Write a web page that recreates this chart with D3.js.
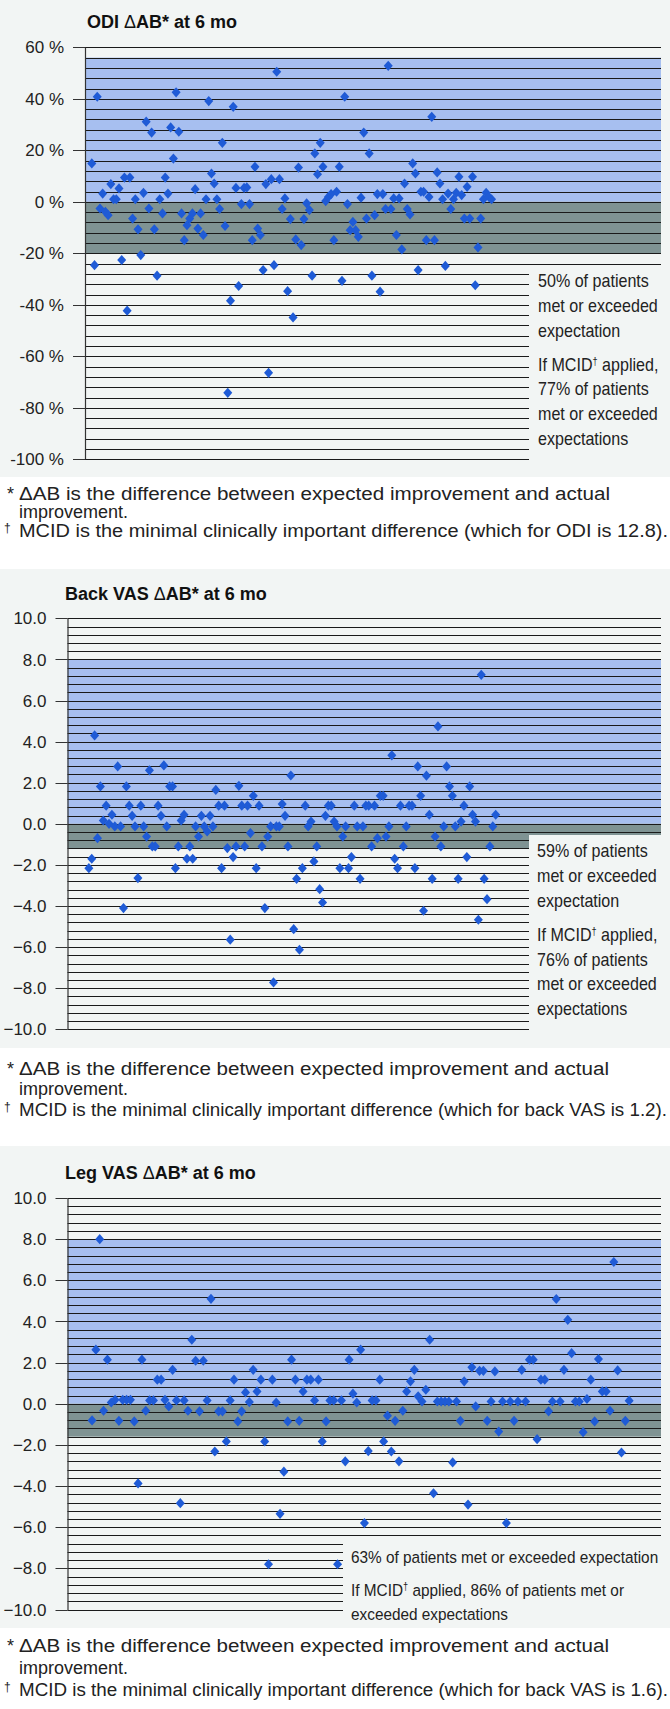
<!DOCTYPE html>
<html><head><meta charset="utf-8">
<script src="https://cdn.jsdelivr.net/npm/d3@7"></script>
<style>
html,body{margin:0;padding:0;background:#fff;}
svg{display:block;}
</style></head><body>
<svg id="chart" width="670" height="1709"></svg>
<script>
// ---------- DATA ----------
const odiValues = [14.9, -24.6, 40.8, -2.6, 3.2, -3.9, -5.2, 6.9, 1.0, 1.0,
 5.2, -22.6, 9.4, -42.3, 9.4, -6.5, 1.0, -10.7, -20.7, 3.5,
 31.1, -2.6, 26.9, -10.7, -28.7, 1.0, -4.5, 9.4, 3.2, 28.9,
 16.8, 42.5, 27.2, -4.5, -14.9, -9.1, -6.5, -4.5, 4.9, -10.4,
 -4.5, -12.9, 1.0, 39.1, 11.0, 7.1, 1.0, -2.8, 22.9, -9.4,
 -74.2, -38.4, 36.9, 5.4, -32.7, -0.9, 5.4, 5.6, -0.9, -14.9,
 13.6, -10.4, -12.9, -26.5, 6.9, -66.4, 8.8, -24.6, 50.5, 8.8,
 -2.8, 1.3, -34.7, -6.7, -44.9, -14.6, 13.3, -16.8, -6.7, -0.6,
 -3.2, -28.7, 18.8, 10.7, 22.9, 13.6, 0.3, 1.9, 3.0, -14.9,
 3.9, 13.6, -30.7, 40.8, -0.9, -11.0, -7.8, -11.0, -13.6, 1.6,
 26.9, -6.5, 18.8, -28.7, -5.2, 3.0, -34.9, 3.0, -2.8, 52.8,
 -2.8, 1.3, -12.9, 1.3, -18.5, 7.1, -2.8, -4.9, 14.9, 11.0,
 -26.5, 3.9, 3.9, -14.9, 1.9, 33.0, -14.9, 11.4, 7.1, 1.0,
 -24.9, 3.2, -2.8, 1.0, 3.5, 9.7, 2.6, -6.5, 5.8, -6.5,
 9.7, -32.4, -17.7, -6.5, 1.0, 3.5, 1.9, 1.0];

const backValues = [-2.16, -1.7, 4.3, -0.7, 1.82, 0.16, 0.88, 0.0, 0.44, -0.13,
 2.79, -0.13, -4.1, 1.82, 0.88, 0.39, -0.13, -2.64, 0.88, -0.13,
 -0.62, 2.6, -1.1, -1.1, 0.88, 0.39, 2.84, -0.13, 1.82, 1.82,
 -2.16, -1.1, 0.16, 0.44, -1.7, -1.1, -1.7, -0.13, -0.62, 0.39,
 -0.13, -0.37, 0.39, -0.13, 1.65, 0.88, -2.16, 0.88, -1.18, -5.64,
 -1.62, -1.1, 1.85, 0.88, -1.1, 0.88, -0.45, 1.36, -2.16, 0.88,
 -1.1, -4.1, -0.62, -0.13, -7.72, -0.13, -0.13, 0.96, 0.39, -1.1,
 2.35, -5.13, -2.68, -6.13, -2.16, 0.88, -0.13, 0.11, -1.83, -1.1,
 -3.18, -3.83, 0.39, 0.88, 0.88, 0.11, -0.13, -2.16, -0.62, -0.13,
 -2.16, -1.62, 0.88, -0.13, -2.68, -0.13, 0.88, 0.88, -1.1, 0.88,
 -0.7, 1.36, 1.36, -0.62, -0.13, 3.33, -1.7, -2.16, 0.88, -1.1,
 -0.13, 0.88, 0.88, -2.16, 2.79, 1.36, -4.23, 2.34, 0.44, -2.68,
 -0.62, 4.74, -1.1, -0.13, 2.79, 1.82, 1.36, -0.13, -2.68, 0.11,
 0.88, -1.62, 1.82, 0.44, 0.11, -4.67, 7.25, -2.68, -3.67, -1.1,
 -0.13, 0.44];

const legValues = [-0.81, 2.63, 8.0, -0.34, 2.14, 0.06, 0.19, -0.83, 0.19, 0.19,
 0.19, -0.86, -3.87, 2.14, -0.34, 0.16, 0.16, 1.17, 1.17, 0.19,
 -0.13, 1.65, 0.16, -4.83, 0.16, -0.34, 3.11, 2.09, -0.37, 2.09,
 0.16, 5.1, -2.32, -0.37, -0.37, -1.83, 0.16, 1.17, -0.86, -0.37,
 0.55, 0.08, 1.65, 0.6, 1.17, -1.83, -7.8, 1.17, 0.06, -5.35,
 -3.3, -0.86, 2.14, 1.17, -0.83, 0.6, 1.17, 1.17, 0.16, 1.17,
 -1.83, -0.86, 0.16, 0.16, -7.8, 0.16, -2.8, 2.14, 0.49, 0.06,
 2.63, -5.8, -2.3, 0.16, 0.16, 1.17, -1.83, -0.58, -2.32, -0.83,
 -2.8, -0.34, 0.6, 1.09, 1.65, 0.36, 0.11, 0.68, 3.11, -4.35,
 0.11, 0.11, 0.11, 0.11, -2.85, 0.11, -0.83, 1.09, -4.9, 1.77,
 -0.13, 1.6, 1.6, -0.83, 0.11, 1.57, -1.35, 0.11, -5.8, 0.11,
 -0.83, 0.11, 1.65, 0.11, 2.14, 2.14, -1.72, 1.17, 1.17, -0.37,
 0.11, 5.09, 0.11, 1.65, 4.08, 2.46, 0.11, 0.11, -1.38, 0.23,
 1.17, -0.86, 2.17, 0.6, 0.6, -0.34, 6.89, 1.62, -2.37, -0.83,
 0.15];

const odiTicks = [60, 40, 20, 0, -20, -40, -60, -80, -100];
const vasTicks = [10, 8, 6, 4, 2, 0, -2, -4, -6, -8, -10];

const odiBox = [["50% of patients", "met or exceeded", "expectation"],
                ["If MCID|applied,", "77% of patients", "met or exceeded", "expectations"]];
const backBox = [["59% of patients", "met or exceeded", "expectation"],
                 ["If MCID|applied,", "76% of patients", "met or exceeded", "expectations"]];
const legBox = [["63% of patients met or exceeded expectation"],
                ["If MCID|applied, 86% of patients met or", "exceeded expectations"]];

const noteLine1 = "ΔAB is the difference between expected improvement and actual";
const noteLine2 = "improvement.";
const noteMcid = ["MCID is the minimal clinically important difference (which for ODI is 12.8).",
                  "MCID is the minimal clinically important difference (which for back VAS is 1.2).",
                  "MCID is the minimal clinically important difference (which for back VAS is 1.6)."];

// ---------- LAYOUT / STYLE ----------
const W = 670;
const BG = "#f2f5f4", BLUE = "#a7bff0", GRAY = "#7f9393", GRID = "#1a1a1a", PT = "#1f5bd6";
const TXT = "#222";

const panels = [
  { name: "ODI", values: odiValues, ticks: odiTicks, fmt: d => d + " %",
    yDomain: [-100, 60], yRange: [459.3, 47.3], gridStep: 4, blueTop: 56, mcid: 20,
    axisX: 85, right: 661, xDomain: [-1.5, 210.3], bg: [0, 477],
    titleX: 87, titleY: 27.5,
    boxX: 529, boxY: 268, boxTextX: 538, boxFont: 17.5,
    boxBase: [[287.5, 312.5, 337], [371, 395.5, 420, 445]],
    box: odiBox, notes: [499.5, 518, 536.5], mcidNote: noteMcid[0], line1Len: 591, mcidLen: 649 },
  { name: "Back VAS", values: backValues, ticks: vasTicks, fmt: d => d3.format(".1f")(d),
    yDomain: [-10, 10], yRange: [1029.3, 618.3], gridStep: 0.4, blueTop: 8, mcid: 1.2,
    axisX: 67.5, right: 661, xDomain: [-6.4, 199.3], bg: [569, 1048],
    titleX: 65, titleY: 599.5,
    boxX: 529, boxY: 835, boxTextX: 537, boxFont: 17.5,
    boxBase: [[857.5, 882.5, 907.5], [941, 966, 990.5, 1015.5]],
    box: backBox, notes: [1075, 1095, 1115.5], mcidNote: noteMcid[1], line1Len: 590, mcidLen: 648 },
  { name: "Leg VAS", values: legValues, ticks: vasTicks, fmt: d => d3.format(".1f")(d),
    yDomain: [-10, 10], yRange: [1609.5, 1198], gridStep: 0.4, blueTop: 8, mcid: 1.6,
    axisX: 67.5, right: 661, xDomain: [-5.4, 149.3], bg: [1146, 1628],
    titleX: 65, titleY: 1178.5,
    boxX: 343, boxY: 1538, boxTextX: 351, boxFont: 16.7,
    boxBase: [[1563], [1596, 1620]],
    box: legBox, notes: [1652, 1674, 1696], mcidNote: noteMcid[2], line1Len: 590, mcidLen: 649 }
];

const svg = d3.select("#chart");
svg.append("rect").attr("width", W).attr("height", 1709).attr("fill", "#fff");

const diamond = "M0,-5.1L4.5,0L0,5.1L-4.5,0Z";

panels.forEach(p => {
  const g = svg.append("g");
  g.append("rect").attr("x", 0).attr("y", p.bg[0]).attr("width", W)
    .attr("height", p.bg[1] - p.bg[0]).attr("fill", BG);

  const y = d3.scaleLinear().domain(p.yDomain).range(p.yRange);
  const x = d3.scaleLinear().domain(p.xDomain).range([p.axisX, p.right]);

  // zones
  g.append("rect").attr("x", p.axisX).attr("y", y(p.blueTop))
    .attr("width", p.right - p.axisX).attr("height", y(0) - y(p.blueTop)).attr("fill", BLUE);
  g.append("rect").attr("x", p.axisX).attr("y", y(0))
    .attr("width", p.right - p.axisX).attr("height", y(-p.mcid) - y(0)).attr("fill", GRAY);

  // gridlines
  const n = Math.round((p.yDomain[1] - p.yDomain[0]) / p.gridStep);
  const grid = d3.range(n + 1).map(i => p.yDomain[0] + i * p.gridStep);
  g.selectAll("line.grid").data(grid).join("line").attr("class", "grid")
    .attr("x1", p.axisX).attr("x2", p.right)
    .attr("y1", d => Math.round(y(d)) + 0.5).attr("y2", d => Math.round(y(d)) + 0.5)
    .attr("stroke", GRID).attr("stroke-width", 1);

  // text box background
  g.append("rect").attr("x", p.boxX).attr("y", p.boxY)
    .attr("width", W - p.boxX).attr("height", p.bg[1] - p.boxY).attr("fill", BG);

  // axis
  g.append("line").attr("x1", p.axisX + 0.5).attr("x2", p.axisX + 0.5)
    .attr("y1", Math.round(y(p.yDomain[1])) + 0.5).attr("y2", Math.round(y(p.yDomain[0])) + 0.5)
    .attr("stroke", "#333").attr("stroke-width", 1.2);
  g.selectAll("line.tick").data(p.ticks).join("line").attr("class", "tick")
    .attr("x1", p.axisX - 12).attr("x2", p.axisX)
    .attr("y1", d => Math.round(y(d)) + 0.5).attr("y2", d => Math.round(y(d)) + 0.5)
    .attr("stroke", "#333").attr("stroke-width", 1);
  g.selectAll("text.tl").data(p.ticks).join("text").attr("class", "tl")
    .attr("x", p.axisX - 21).attr("y", d => y(d)).attr("dy", "0.36em")
    .attr("text-anchor", "end").attr("font-family", "Liberation Sans")
    .attr("font-size", 17).attr("fill", TXT).text(p.fmt);

  // points
  g.selectAll("path.pt").data(p.values).join("path").attr("class", "pt")
    .attr("d", diamond)
    .attr("transform", (d, i) => `translate(${x(i + 1)},${y(d)})`)
    .attr("fill", PT);

  // title
  const t = g.append("text").attr("x", p.titleX).attr("y", p.titleY)
    .attr("font-family", "Liberation Sans").attr("font-size", 18)
    .attr("font-weight", "bold").attr("fill", "#111");
  t.append("tspan").text(p.name + " ");
  t.append("tspan").attr("font-weight", "normal").text("Δ");
  t.append("tspan").text("AB* at 6 mo");

  // box text (slightly condensed)
  const bg = g.append("g").attr("transform", `translate(${p.boxTextX},0) scale(0.92,1)`);
  p.box.forEach((para, pi) => {
    para.forEach((line, li) => {
      const tx = bg.append("text").attr("x", 0).attr("y", p.boxBase[pi][li])
        .attr("font-family", "Liberation Sans").attr("font-size", p.boxFont).attr("fill", TXT);
      const parts = line.split("|");
      tx.append("tspan").text(parts[0]);
      if (parts.length > 1) {
        tx.append("tspan").attr("font-size", 10).attr("dy", -6).text("†");
        tx.append("tspan").attr("dy", 6).text(" " + parts[1]);
      }
    });
  });

  // footnotes
  const fn = svg.append("g").attr("font-family", "Liberation Sans").attr("font-size", 18).attr("fill", TXT);
  fn.append("text").attr("x", 7).attr("y", p.notes[0]).text("*");
  fn.append("text").attr("x", 19).attr("y", p.notes[0])
    .attr("textLength", p.line1Len).attr("lengthAdjust", "spacingAndGlyphs").text(noteLine1);
  fn.append("text").attr("x", 19).attr("y", p.notes[1]).text(noteLine2);
  fn.append("text").attr("x", 4).attr("y", p.notes[2] - 5).attr("font-size", 12).text("†");
  fn.append("text").attr("x", 19).attr("y", p.notes[2])
    .attr("textLength", p.mcidLen).attr("lengthAdjust", "spacingAndGlyphs").text(p.mcidNote);
});
</script>
</body></html>
